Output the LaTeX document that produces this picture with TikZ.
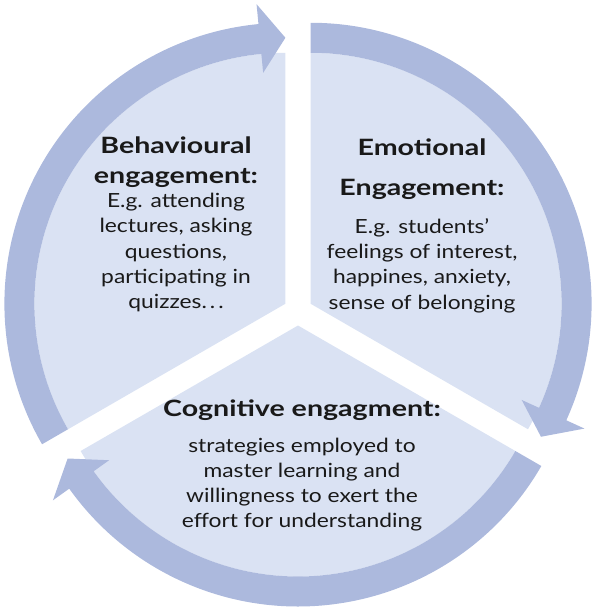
\documentclass[tikz,border=0pt]{standalone}
\usepackage{fontspec}
\setmainfont{Lato}
\newfontfamily\headfont[FakeStretch=1.27]{Lato}
\newfontfamily\bodyfont[FakeStretch=1.17]{Lato}
\definecolor{ringblue}{RGB}{172,185,221}
\definecolor{sliceblue}{RGB}{218,226,243}
\definecolor{txtdark}{RGB}{25,25,25}

\begin{document}
\begin{tikzpicture}[x=1pt, y=-1pt,
  slice/.style={fill=sliceblue},
  ringarrow/.style={fill=ringblue},
  headtxt/.style={anchor=center,inner sep=0pt,align=center,text=txtdark,font=\headfont\fontsize{22.5}{30}\selectfont\bfseries},
  bodytxt/.style={anchor=center,inner sep=0pt,align=center,text=txtdark,font=\bodyfont\fontsize{19.5}{25.25}\selectfont}]

  %% ════ 三块扇形（圆心各自沿角平分线外移）════
  \foreach \cx/\cy/\b in {285.4/303.75/-210, 310.6/303.75/-90, 298.0/325.5/30}{
    \begin{scope}[shift={(\cx,\cy)}]
      \fill[slice] (0,0) -- (\b:251) arc[start angle=\b, delta angle=120, radius=251] -- cycle;
    \end{scope}
  }

  %% ════ 外圈弧形箭头（顺时针，箭头尖落在扇形边界上）════
  \foreach \cx/\cy/\b in {285.4/303.75/-210, 310.6/303.75/-90, 298.0/325.5/30}{
    \pgfmathsetmacro\h{\b+114.5}
    \pgfmathsetmacro\t{\b+120}
    \begin{scope}[shift={(\cx,\cy)}]
      \fill[ringarrow] (\b:281) arc[start angle=\b, delta angle=114.5, radius=281]
        -- (\h:301) -- (\t:266) -- (\h:232) -- (\h:251)
        arc[start angle=\h, delta angle=-114.5, radius=251] -- cycle;
    \end{scope}
  }

  %% ════ 文字 ════
  \node[headtxt] (behavHead) at (176,162) {Behavioural\\engagement:};
  \node[bodytxt] (behavBody) at (176,252.5) {E.g. attending\\lectures, asking\\questions,\\participating in\\quizzes.\kern3pt.\kern3pt.};

  \node[headtxt,font=\headfont\fontsize{22.5}{40}\selectfont\bfseries] (emoHead) at (422,169) {Emotional\\Engagement:};
  \node[bodytxt] (emoBody) at (422,265.5) {E.g. students’\\feelings of interest,\\happines, anxiety,\\sense of belonging};

  \node[headtxt] (cogHead) at (302,410) {Cognitive engagment:};
  \node[bodytxt] (cogBody) at (302,484.5) {strategies employed to\\master learning and\\willingness to exert the\\effort for understanding};

  % 钉死画布
  \pgfresetboundingbox
  \path[use as bounding box] (0,0) rectangle (597,614);
\end{tikzpicture}
\end{document}
